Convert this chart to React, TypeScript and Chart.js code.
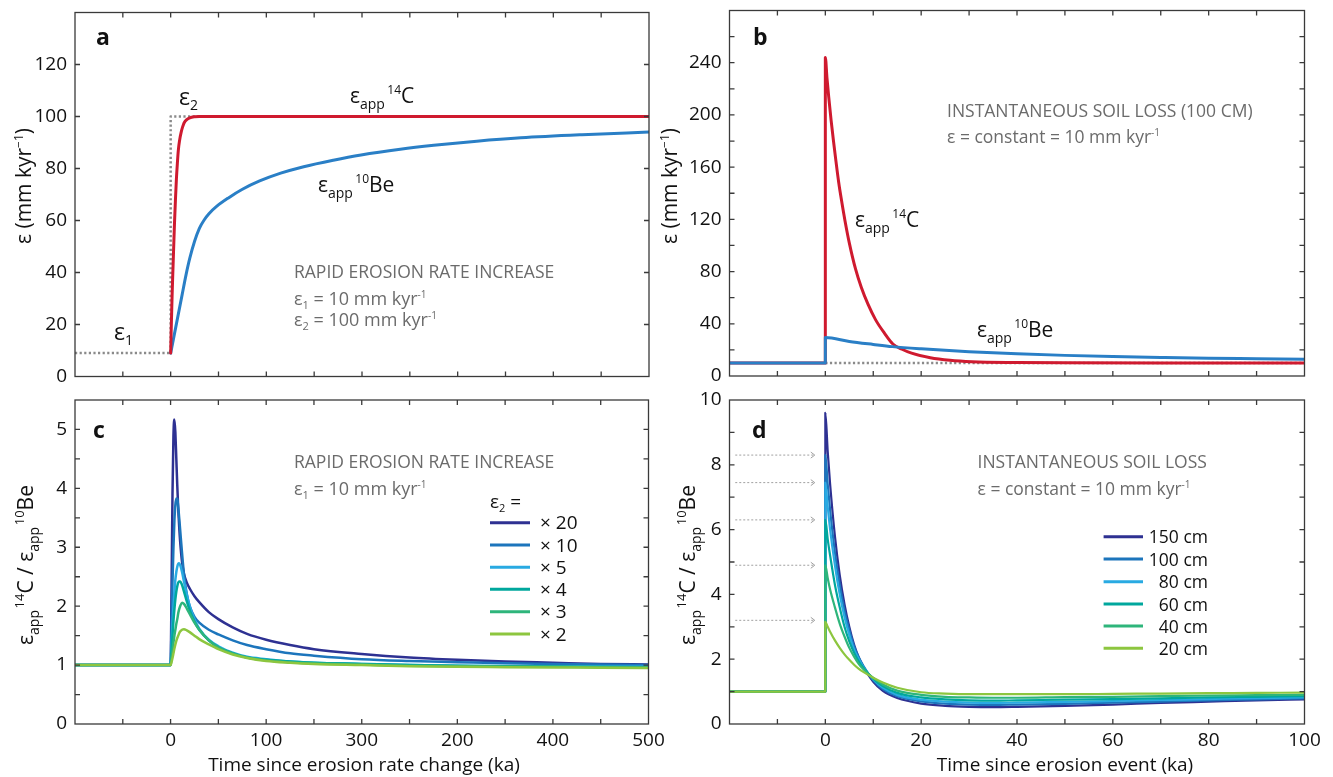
import React, { useEffect, useRef } from 'react';
import { Chart, registerables } from 'chart.js';
Chart.register(...registerables);

// ---------------- data ----------------
// Panel a: rapid erosion rate increase (time in ka, rate in mm/kyr)
const aTimeC14 = [0, 0.5, 1, 1.5, 2, 3, 4, 5, 6, 7, 8, 9.4, 11, 12.5, 14, 16.5, 20, 25, 30, 60, 150, 300, 500];
const aRateC14 = [9, 17, 24, 31, 37, 48, 59, 68, 76, 82, 87, 91, 94, 96, 97.5, 98.7, 99.5, 99.9, 100, 100, 100, 100, 100];
const aTimeBe10 = [0, 4, 8, 12, 16, 20, 25, 30, 35, 40, 48, 60, 75, 93, 115, 139, 170, 199, 240, 275, 320, 366, 430, 500];
const aRateBe10 = [9, 16.5, 24, 31.5, 39, 45.5, 52, 57, 60.2, 62.6, 65.4, 68.6, 72, 75.2, 78.2, 80.7, 83.2, 85.2, 87.4, 88.9, 90.5, 91.8, 93, 94];
const aTimeStep = [-100, 0, 0, 30];
const aRateStep = [9, 9, 100, 100];

// Panel b: instantaneous soil loss (100 cm)
const bTimeC14 = [-20, 0, 0, 0.35, 0.7, 1.2, 1.7, 2.2, 2.8, 3.4, 4.1, 5, 6.3, 7.5, 8.9, 10.5, 12.3, 14.1, 16, 18, 21.9, 26, 30.6, 40, 50, 70, 100];
const bRateC14 = [10, 10, 244, 228, 214, 196, 180, 165, 148, 134, 119, 102, 82, 68, 55, 43, 33, 24.5, 20.5, 17.5, 14, 12, 10.9, 10.3, 10.1, 10, 10];
const bTimeBe10 = [-20, 0, 0, 5, 10, 14, 20, 30, 40, 50, 60, 70, 80, 90, 100];
const bRateBe10 = [10, 10, 29.5, 26.5, 24.2, 22.5, 20.8, 18.6, 17, 15.8, 14.9, 14.2, 13.6, 13.2, 12.8];
const bTimeConst = [0, 100];
const bRateConst = [10, 10];

// Panel c: ratio for different eps2 multipliers
const cTime = [-100, 0, 1, 2, 3, 4, 5, 6, 7, 8, 9, 10, 12, 14, 17, 20, 25, 30, 40, 50, 65, 80, 100, 125, 150, 200, 250, 300, 350, 400, 450, 500];
const cRatioX20 = [1, 1, 2.3, 3.9, 4.9, 5.17, 4.95, 4.5, 4.05, 3.65, 3.35, 3.1, 2.75, 2.55, 2.4, 2.3, 2.17, 2.07, 1.9, 1.78, 1.64, 1.53, 1.43, 1.34, 1.27, 1.19, 1.13, 1.09, 1.06, 1.04, 1.02, 1.01];
const cRatioX10 = [1, 1, 1.7, 2.4, 3.0, 3.45, 3.72, 3.83, 3.82, 3.68, 3.5, 3.3, 2.9, 2.55, 2.2, 2.0, 1.82, 1.72, 1.6, 1.52, 1.42, 1.34, 1.27, 1.2, 1.16, 1.1, 1.07, 1.05, 1.03, 1.02, 1.01, 1.0];
const cRatioX5 = [1, 1, 1.35, 1.7, 2.0, 2.25, 2.45, 2.58, 2.67, 2.72, 2.73, 2.7, 2.58, 2.42, 2.2, 2.0, 1.78, 1.62, 1.43, 1.32, 1.21, 1.14, 1.1, 1.06, 1.04, 1.02, 1.0, 0.99, 0.985, 0.98, 0.975, 0.97];
const cRatioX4 = [1, 1, 1.25, 1.5, 1.75, 1.95, 2.12, 2.25, 2.34, 2.4, 2.42, 2.42, 2.36, 2.25, 2.08, 1.93, 1.74, 1.6, 1.42, 1.3, 1.2, 1.13, 1.09, 1.06, 1.04, 1.02, 1.0, 0.99, 0.98, 0.975, 0.97, 0.965];
const cRatioX3 = [1, 1, 1.12, 1.25, 1.38, 1.5, 1.6, 1.7, 1.78, 1.88, 1.95, 2.0, 2.06, 2.04, 1.96, 1.87, 1.72, 1.6, 1.42, 1.3, 1.2, 1.13, 1.08, 1.05, 1.03, 1.01, 0.99, 0.98, 0.975, 0.97, 0.965, 0.96];
const cRatioX2 = [1, 1, 1.05, 1.12, 1.2, 1.28, 1.35, 1.41, 1.46, 1.5, 1.54, 1.57, 1.6, 1.61, 1.59, 1.56, 1.5, 1.44, 1.35, 1.27, 1.18, 1.12, 1.07, 1.04, 1.02, 1.0, 0.98, 0.97, 0.965, 0.96, 0.955, 0.95];
const cLegendLabels = ['× 20', '× 10', '× 5', '× 4', '× 3', '× 2'];

// Panel d: ratio for different soil-loss depths
const dTime = [-20, 0, 0, 0.5, 1, 2, 3, 4, 5, 6, 7, 8, 10, 12, 15, 20, 25, 30, 35, 40, 50, 60, 70, 80, 90, 100];
const dRatio150 = [1, 1, 9.6, 8.4, 7.4, 5.8, 4.6, 3.7, 3.0, 2.45, 2.05, 1.75, 1.3, 1.02, 0.8, 0.63, 0.56, 0.53, 0.52, 0.53, 0.56, 0.6, 0.65, 0.69, 0.73, 0.76];
const dRatio100 = [1, 1, 8.3, 7.4, 6.6, 5.3, 4.3, 3.5, 2.9, 2.4, 2.05, 1.78, 1.35, 1.08, 0.86, 0.7, 0.63, 0.6, 0.59, 0.6, 0.62, 0.66, 0.69, 0.73, 0.76, 0.79];
const dRatio80 = [1, 1, 7.45, 6.7, 6.0, 4.9, 4.0, 3.3, 2.75, 2.3, 2.0, 1.75, 1.38, 1.12, 0.9, 0.75, 0.69, 0.66, 0.65, 0.66, 0.68, 0.71, 0.74, 0.77, 0.8, 0.82];
const dRatio60 = [1, 1, 6.3, 5.7, 5.2, 4.3, 3.6, 3.0, 2.55, 2.2, 1.93, 1.72, 1.4, 1.17, 0.96, 0.82, 0.76, 0.73, 0.72, 0.73, 0.75, 0.77, 0.79, 0.82, 0.84, 0.86];
const dRatio40 = [1, 1, 4.9, 4.5, 4.15, 3.6, 3.1, 2.7, 2.35, 2.08, 1.85, 1.68, 1.42, 1.22, 1.03, 0.9, 0.84, 0.82, 0.81, 0.81, 0.83, 0.84, 0.86, 0.88, 0.89, 0.9];
const dRatio20 = [1, 1, 3.15, 3.0, 2.85, 2.58, 2.35, 2.15, 1.98, 1.83, 1.7, 1.6, 1.43, 1.28, 1.12, 0.98, 0.94, 0.92, 0.92, 0.92, 0.92, 0.93, 0.94, 0.95, 0.96, 0.97];
const dLegendLabels = ['150 cm', '100 cm', '80 cm', '60 cm', '40 cm', '20 cm'];
const dArrowLevels = [8.3, 7.45, 6.3, 4.9, 3.2];
const dArrowFrom = -18.8;
const dArrowTo = -2.2;

// tick labels
const aYTickLabels = ['0', '20', '40', '60', '80', '100', '120', ''];
const bYTickLabels = ['0', '', '40', '', '80', '', '120', '', '160', '', '200', '', '240', '', ''];
const cYTickLabels = ['0', '', '1', '', '2', '', '3', '', '4', '', '5', ''];
const dYTickLabels = ['0', '', '2', '', '4', '', '6', '', '8', '', '10'];
const cXTickLabels = ['', '', '0', '', '100', '', '300', '', '200', '', '400', '', '500'];
const dXTickLabels = ['', '', '0', '', '20', '', '40', '', '60', '', '80', '', '100'];

// ---------------- styling ----------------
const W = 1333;
const H = 777;
const FONT = "'Open Sans', 'Noto Sans', sans-serif";
const RED = '#cf1a2f';
const BLUE = '#2a7fc6';
const DOT = '#8a8a8a';
const GRAYTXT = '#6b6b6b';
const AXIS = '#3a3a3a';
const SERIES_COLORS = ['#2e3192', '#1c75bc', '#29aae2', '#00a79d', '#2eb57b', '#8dc63f'];

type Seg = [string, number, number?, string?];

function rich(ctx: CanvasRenderingContext2D, segs: Seg[], x: number, y: number, color: string, align: 'left' | 'center' | 'right' = 'left') {
  ctx.save();
  ctx.fillStyle = color;
  ctx.textBaseline = 'alphabetic';
  ctx.textAlign = 'left';
  const widths = segs.map(([t, s, , w]) => {
    ctx.font = `${w || 'normal'} ${s}px ${FONT}`;
    return ctx.measureText(t).width;
  });
  const total = widths.reduce((p, q) => p + q, 0);
  let cx = align === 'center' ? x - total / 2 : align === 'right' ? x - total : x;
  segs.forEach(([t, s, dy, w], i) => {
    ctx.font = `${w || 'normal'} ${s}px ${FONT}`;
    ctx.fillText(t, cx, y + (dy || 0));
    cx += widths[i];
  });
  ctx.restore();
}

function richRot(ctx: CanvasRenderingContext2D, segs: Seg[], cx: number, cy: number, color: string) {
  ctx.save();
  ctx.translate(cx, cy);
  ctx.rotate(-Math.PI / 2);
  rich(ctx, segs, 0, 7, color, 'center');
  ctx.restore();
}

function drawFrame(chart: any) {
  const { ctx, chartArea: a, scales } = chart;
  ctx.save();
  ctx.strokeStyle = AXIS;
  ctx.lineWidth = 1.3;
  ctx.strokeRect(a.left, a.top, a.right - a.left, a.bottom - a.top);
  const TL = 5;
  ctx.beginPath();
  for (const t of scales.x.ticks) {
    const px = scales.x.getPixelForValue(t.value);
    if (px <= a.left + 1 || px >= a.right - 1) continue;
    ctx.moveTo(px, a.bottom); ctx.lineTo(px, a.bottom - TL);
    ctx.moveTo(px, a.top); ctx.lineTo(px, a.top + TL);
  }
  for (const t of scales.y.ticks) {
    const py = scales.y.getPixelForValue(t.value);
    if (py <= a.top + 1 || py >= a.bottom - 1) continue;
    ctx.moveTo(a.left, py); ctx.lineTo(a.left + TL, py);
    ctx.moveTo(a.right, py); ctx.lineTo(a.right - TL, py);
  }
  ctx.stroke();
  ctx.restore();
}

function pts(xs: number[], ys: number[]) {
  return xs.map((x, i) => ({ x, y: ys[i] }));
}

function line(label: string, data: any[], color: string, width: number, order: number, dash?: number[]) {
  return {
    label, data, borderColor: color, backgroundColor: color, borderWidth: width,
    pointRadius: 0, fill: false, order,
    cubicInterpolationMode: dash ? 'default' : 'monotone', tension: 0,
    borderDash: dash || [], borderJoinStyle: 'round', borderCapStyle: dash ? 'butt' : 'round',
  };
}

function legend(ctx: CanvasRenderingContext2D, labels: string[], x0: number, x1: number, tx: number, ys: number[], align: 'left' | 'right', size: number) {
  labels.forEach((lab, i) => {
    ctx.save();
    ctx.strokeStyle = SERIES_COLORS[i];
    ctx.lineWidth = 3;
    ctx.beginPath(); ctx.moveTo(x0, ys[i]); ctx.lineTo(x1, ys[i]); ctx.stroke();
    ctx.restore();
    rich(ctx, [[lab, size]], tx, ys[i] + 6.5, '#111', align);
  });
}

interface Panel {
  box: { l: number; r: number; t: number; b: number };
  xMin: number; xMax: number; xStep: number; xLabels: string[] | null;
  yMin: number; yMax: number; yStep: number; yLabels: string[];
  datasets: any[];
  extra: (ctx: CanvasRenderingContext2D, chart: any) => void;
}

const YW = 60;
const XH = 30;

function buildConfig(p: Panel): any {
  const fitFn = (size: number) => (scale: any) => {
    if (scale.isHorizontal()) scale.height = size; else scale.width = size;
    scale.paddingTop = 0; scale.paddingBottom = 0; scale.paddingLeft = 0; scale.paddingRight = 0;
  };
  const tickFont = { family: FONT, size: 19 };
  return {
    type: 'line',
    data: { datasets: p.datasets },
    options: {
      animation: false,
      responsive: false,
      maintainAspectRatio: false,
      events: [],
      layout: { padding: { left: p.box.l - YW, right: W - p.box.r, top: p.box.t, bottom: H - p.box.b - XH } },
      plugins: { legend: { display: false }, tooltip: { enabled: false } },
      scales: {
        x: {
          type: 'linear', min: p.xMin, max: p.xMax,
          afterFit: fitFn(XH),
          grid: { display: false, drawTicks: false }, border: { display: false },
          ticks: {
            stepSize: p.xStep, autoSkip: false, maxRotation: 0, minRotation: 0, padding: 5,
            font: tickFont, color: '#111',
            callback: (_v: any, i: number) => (p.xLabels ? p.xLabels[i] ?? '' : ''),
          },
        },
        y: {
          type: 'linear', min: p.yMin, max: p.yMax,
          afterFit: fitFn(YW),
          grid: { display: false, drawTicks: false }, border: { display: false },
          ticks: {
            stepSize: p.yStep, autoSkip: false, padding: 8,
            font: tickFont, color: '#111',
            callback: (_v: any, i: number) => p.yLabels[i] ?? '',
          },
        },
      },
    },
    plugins: [{
      id: 'extras',
      afterDraw: (chart: any) => { drawFrame(chart); p.extra(chart.ctx, chart); },
    }],
  };
}

const C14: Seg[] = [['ε', 21], ['app', 14, 6], [' ', 9], ['14', 12, -9], ['C', 21]];
const BE10: Seg[] = [['ε', 21], ['app', 14, 6], [' ', 9], ['10', 12, -9], ['Be', 21]];
const RATE_TITLE: Seg[] = [['ε (mm kyr', 21], ['−1', 12, -8], [')', 21]];
const RATIO_TITLE: Seg[] = [['ε', 21], ['app', 14, 6], [' ', 6], ['14', 13, -9], ['C / ε', 21], ['app', 14, 6], [' ', 6], ['10', 13, -9], ['Be', 21]];

const panels: Panel[] = [
  {
    box: { l: 75, r: 649, t: 12.5, b: 376.5 },
    xMin: -100, xMax: 500, xStep: 50, xLabels: null,
    yMin: 0, yMax: 140, yStep: 20, yLabels: aYTickLabels,
    datasets: [
      line('eps step', pts(aTimeStep, aRateStep), DOT, 2.5, 2, [2.2, 2.4]),
      line('eps app 10Be', pts(aTimeBe10, aRateBe10), BLUE, 3, 1),
      line('eps app 14C', pts(aTimeC14, aRateC14), RED, 3, 0),
    ],
    extra: (ctx) => {
      rich(ctx, [['a', 23, 0, 'bold']], 96, 45, '#111');
      rich(ctx, [['ε', 23], ['2', 14, 5]], 179, 105, '#111');
      rich(ctx, C14, 350, 103, '#111');
      rich(ctx, BE10, 318, 192, '#111');
      rich(ctx, [['ε', 23], ['1', 14, 5]], 114, 340, '#111');
      rich(ctx, [['RAPID EROSION RATE INCREASE', 17.5]], 294, 278, GRAYTXT);
      rich(ctx, [['ε', 18], ['1', 11, 4], [' = 10 mm kyr', 18], ['-1', 10, -7]], 294, 305, GRAYTXT);
      rich(ctx, [['ε', 18], ['2', 11, 4], [' = 100 mm kyr', 18], ['-1', 10, -7]], 294, 326, GRAYTXT);
      richRot(ctx, RATE_TITLE, 24, 186, '#111');
    },
  },
  {
    box: { l: 729.5, r: 1304.5, t: 10.5, b: 376 },
    xMin: -20, xMax: 100, xStep: 10, xLabels: null,
    yMin: 0, yMax: 280, yStep: 20, yLabels: bYTickLabels,
    datasets: [
      line('eps constant', pts(bTimeConst, bRateConst), DOT, 2.5, 2, [2.2, 2.4]),
      line('eps app 14C', pts(bTimeC14, bRateC14), RED, 3, 1),
      line('eps app 10Be', pts(bTimeBe10, bRateBe10), BLUE, 3, 0),
    ],
    extra: (ctx) => {
      rich(ctx, [['b', 23, 0, 'bold']], 753, 45, '#111');
      rich(ctx, [['INSTANTANEOUS SOIL LOSS (100 CM)', 17.5]], 947, 117, GRAYTXT);
      rich(ctx, [['ε = constant = 10 mm kyr', 17.5], ['-1', 10, -7]], 947, 143, GRAYTXT);
      rich(ctx, C14, 855, 227, '#111');
      rich(ctx, BE10, 977, 337, '#111');
      richRot(ctx, RATE_TITLE, 670, 186, '#111');
    },
  },
  {
    box: { l: 75, r: 648.5, t: 400, b: 724 },
    xMin: -100, xMax: 500, xStep: 50, xLabels: cXTickLabels,
    yMin: 0, yMax: 5.5, yStep: 0.5, yLabels: cYTickLabels,
    datasets: [cRatioX20, cRatioX10, cRatioX5, cRatioX4, cRatioX3, cRatioX2].map((ys, i) =>
      line(cLegendLabels[i], pts(cTime, ys), SERIES_COLORS[i], 2.5, 5 - i)),
    extra: (ctx) => {
      rich(ctx, [['c', 23, 0, 'bold']], 93, 438, '#111');
      rich(ctx, [['RAPID EROSION RATE INCREASE', 17.5]], 294, 468, GRAYTXT);
      rich(ctx, [['ε', 18], ['1', 11, 4], [' = 10 mm kyr', 18], ['-1', 10, -7]], 294, 495, GRAYTXT);
      rich(ctx, [['ε', 19], ['2', 11, 4], [' =', 19]], 490, 508, '#111');
      legend(ctx, cLegendLabels, 490, 530, 540, [522.7, 545, 567.3, 589.3, 611.7, 634], 'left', 19);
      richRot(ctx, RATIO_TITLE, 26, 565, '#111');
      rich(ctx, [['Time since erosion rate change (ka)', 19]], 364, 771, '#111', 'center');
    },
  },
  {
    box: { l: 729.5, r: 1304.5, t: 400, b: 724 },
    xMin: -20, xMax: 100, xStep: 10, xLabels: dXTickLabels,
    yMin: 0, yMax: 10, yStep: 1, yLabels: dYTickLabels,
    datasets: [dRatio150, dRatio100, dRatio80, dRatio60, dRatio40, dRatio20].map((ys, i) =>
      line(dLegendLabels[i], pts(dTime, ys), SERIES_COLORS[i], 2.2, 5 - i)),
    extra: (ctx, chart) => {
      const xs = chart.scales.x;
      const ysc = chart.scales.y;
      ctx.save();
      ctx.strokeStyle = '#a0a0a0';
      ctx.lineWidth = 1;
      dArrowLevels.forEach((lv) => {
        const y = ysc.getPixelForValue(lv);
        const x0 = xs.getPixelForValue(dArrowFrom);
        const x1 = xs.getPixelForValue(dArrowTo);
        ctx.setLineDash([2, 2]);
        ctx.beginPath(); ctx.moveTo(x0, y); ctx.lineTo(x1, y); ctx.stroke();
        ctx.setLineDash([]);
        ctx.beginPath(); ctx.moveTo(x1 - 4, y - 3); ctx.lineTo(x1, y); ctx.lineTo(x1 - 4, y + 3); ctx.stroke();
      });
      ctx.restore();
      rich(ctx, [['d', 23, 0, 'bold']], 752, 438, '#111');
      rich(ctx, [['INSTANTANEOUS SOIL LOSS', 17.5]], 977.5, 468, GRAYTXT);
      rich(ctx, [['ε = constant = 10 mm kyr', 17.5], ['-1', 10, -7]], 977.5, 495, GRAYTXT);
      legend(ctx, dLegendLabels, 1103.6, 1143, 1208, [536.7, 559, 581.7, 604, 626, 648.3], 'right', 17.5);
      richRot(ctx, RATIO_TITLE, 688, 565, '#111');
      rich(ctx, [['Time since erosion event (ka)', 19]], 1065, 771, '#111', 'center');
    },
  },
];

export default function App() {
  const r0 = useRef<HTMLCanvasElement>(null);
  const r1 = useRef<HTMLCanvasElement>(null);
  const r2 = useRef<HTMLCanvasElement>(null);
  const r3 = useRef<HTMLCanvasElement>(null);
  const refs = [r0, r1, r2, r3];
  useEffect(() => {
    const charts = panels.map((p, i) => new Chart(refs[i].current as HTMLCanvasElement, buildConfig(p)));
    return () => charts.forEach((c) => c.destroy());
  }, []);
  return (
    <div style={{ position: 'absolute', left: 0, top: 0, width: W, height: H, background: '#fff', overflow: 'hidden' }}>
      {refs.map((r, i) => (
        <canvas key={i} ref={r} width={W} height={H}
          style={{ position: 'absolute', left: 0, top: 0, width: W, height: H }} />
      ))}
    </div>
  );
}
